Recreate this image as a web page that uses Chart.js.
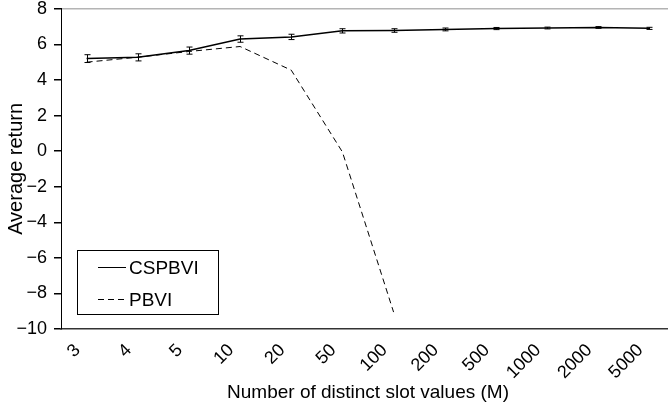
<!DOCTYPE html>
<html>
<head>
<meta charset="utf-8">
<script src="https://cdn.jsdelivr.net/npm/chart.js@4"></script>
<style>
  html, body { margin: 0; padding: 0; background: #fff; overflow: hidden; }
  #wrap { width: 668px; height: 409px; overflow: hidden; }
</style>
</head>
<body>
<div id="wrap"><canvas id="chart" width="675" height="409"></canvas></div>
<script>
// slot value counts (x categories)
const slotValues = ['3', '4', '5', '10', '20', '50', '100', '200', '500', '1000', '2000', '5000'];
// average return
const cspbvi = [5.2, 5.27, 5.65, 6.3, 6.42, 6.76, 6.78, 6.84, 6.89, 6.92, 6.95, 6.9];
const cspbviErr = [0.22, 0.2, 0.2, 0.18, 0.15, 0.12, 0.1, 0.08, 0.06, 0.05, 0.05, 0.06];
const pbvi = [5.0, 5.28, 5.6, 5.88, 4.55, -0.05, -9.05, null, null, null, null, null];
const yTicks = [8, 6, 4, 2, 0, -2, -4, -6, -8, -10];

const FONT = 'Liberation Sans, Arial, sans-serif';

// error bars for the CSPBVI line
const errorBars = {
    id: 'errorBars',
    afterDatasetsDraw(chart) {
        const ctx = chart.ctx;
        const xs = chart.scales.x, ys = chart.scales.y;
        ctx.save();
        ctx.strokeStyle = '#000';
        ctx.lineWidth = 1;
        cspbvi.forEach((v, i) => {
            const x = Math.round(xs.getPixelForValue(i)) + 0.5;
            const top = ys.getPixelForValue(v + cspbviErr[i]);
            const bot = ys.getPixelForValue(v - cspbviErr[i]);
            ctx.beginPath();
            ctx.moveTo(x, top); ctx.lineTo(x, bot);
            ctx.moveTo(x - 3, top); ctx.lineTo(x + 3, top);
            ctx.moveTo(x - 3, bot); ctx.lineTo(x + 3, bot);
            ctx.stroke();
        });
        ctx.restore();
    }
};

// boxed legend inside the plot area, bottom left
const boxLegend = {
    id: 'boxLegend',
    afterDraw(chart) {
        const ctx = chart.ctx;
        const left = 77, top = 250, w = 141, h = 64;
        ctx.save();
        ctx.fillStyle = '#fff';
        ctx.fillRect(left, top, w, h);
        ctx.strokeStyle = '#000';
        ctx.lineWidth = 1;
        ctx.strokeRect(left + 0.5, top + 0.5, w, h);
        ctx.font = '19px ' + FONT;
        ctx.fillStyle = '#000';
        ctx.textBaseline = 'middle';
        chart.data.datasets.forEach((ds, i) => {
            const y = top + 17.5 + i * 32;
            ctx.beginPath();
            ctx.setLineDash(ds.borderDash || []);
            ctx.lineWidth = 1;
            ctx.moveTo(98, y); ctx.lineTo(126, y);
            ctx.stroke();
            ctx.setLineDash([]);
            ctx.fillText(ds.label, 129, y + 1);
        });
        ctx.restore();
    }
};

new Chart(document.getElementById('chart'), {
    type: 'line',
    data: {
        labels: slotValues,
        datasets: [
            {
                label: 'CSPBVI',
                data: cspbvi,
                borderColor: '#000',
                borderWidth: 1.5,
                pointRadius: 0,
                tension: 0
            },
            {
                label: 'PBVI',
                data: pbvi,
                borderColor: '#000',
                borderWidth: 1,
                borderDash: [6, 4],
                pointRadius: 0,
                tension: 0,
                spanGaps: false
            }
        ]
    },
    options: {
        responsive: false,
        animation: false,
        layout: { padding: { top: 0, right: 0, left: 0, bottom: 0 } },
        plugins: {
            legend: { display: false },
            tooltip: { enabled: false }
        },
        scales: {
            x: {
                offset: true,
                grid: { display: false },
                border: { display: true, color: '#333', width: 1.5 },
                ticks: {
                    color: '#000',
                    font: { family: FONT, size: 18, lineHeight: 1 },
                    minRotation: 45,
                    maxRotation: 45,
                    padding: 4,
                    labelOffset: -9
                },
                title: {
                    display: true,
                    text: 'Number of distinct slot values (M)',
                    color: '#000',
                    font: { family: FONT, size: 19 },
                    padding: { top: 0, bottom: 5 }
                },
                afterFit(scale) { scale.height = 80; }
            },
            y: {
                min: -10,
                max: 8,
                afterBuildTicks(scale) { scale.ticks = yTicks.map(v => ({ value: v })); },
                grid: {
                    color: ctx => ctx.tick && ctx.tick.value === 8 ? '#b4b4b4' : 'rgba(0,0,0,0)',
                    lineWidth: 1.5,
                    tickColor: '#000',
                    tickLength: 7,
                    drawTicks: true
                },
                border: { display: true, color: '#000', width: 1 },
                ticks: {
                    color: '#000',
                    // small line height keeps the plot top close to the canvas edge
                    font: { family: FONT, size: 18, lineHeight: 0.2 },
                    padding: 7,
                    callback: v => String(v).replace('-', '\u2212')
                },
                title: {
                    display: true,
                    text: 'Average return',
                    color: '#000',
                    font: { family: FONT, size: 20 },
                    padding: { top: 4, bottom: 0 }
                },
                afterFit(scale) { scale.width = 61; }
            }
        }
    },
    plugins: [errorBars, boxLegend]
});
</script>
</body>
</html>
